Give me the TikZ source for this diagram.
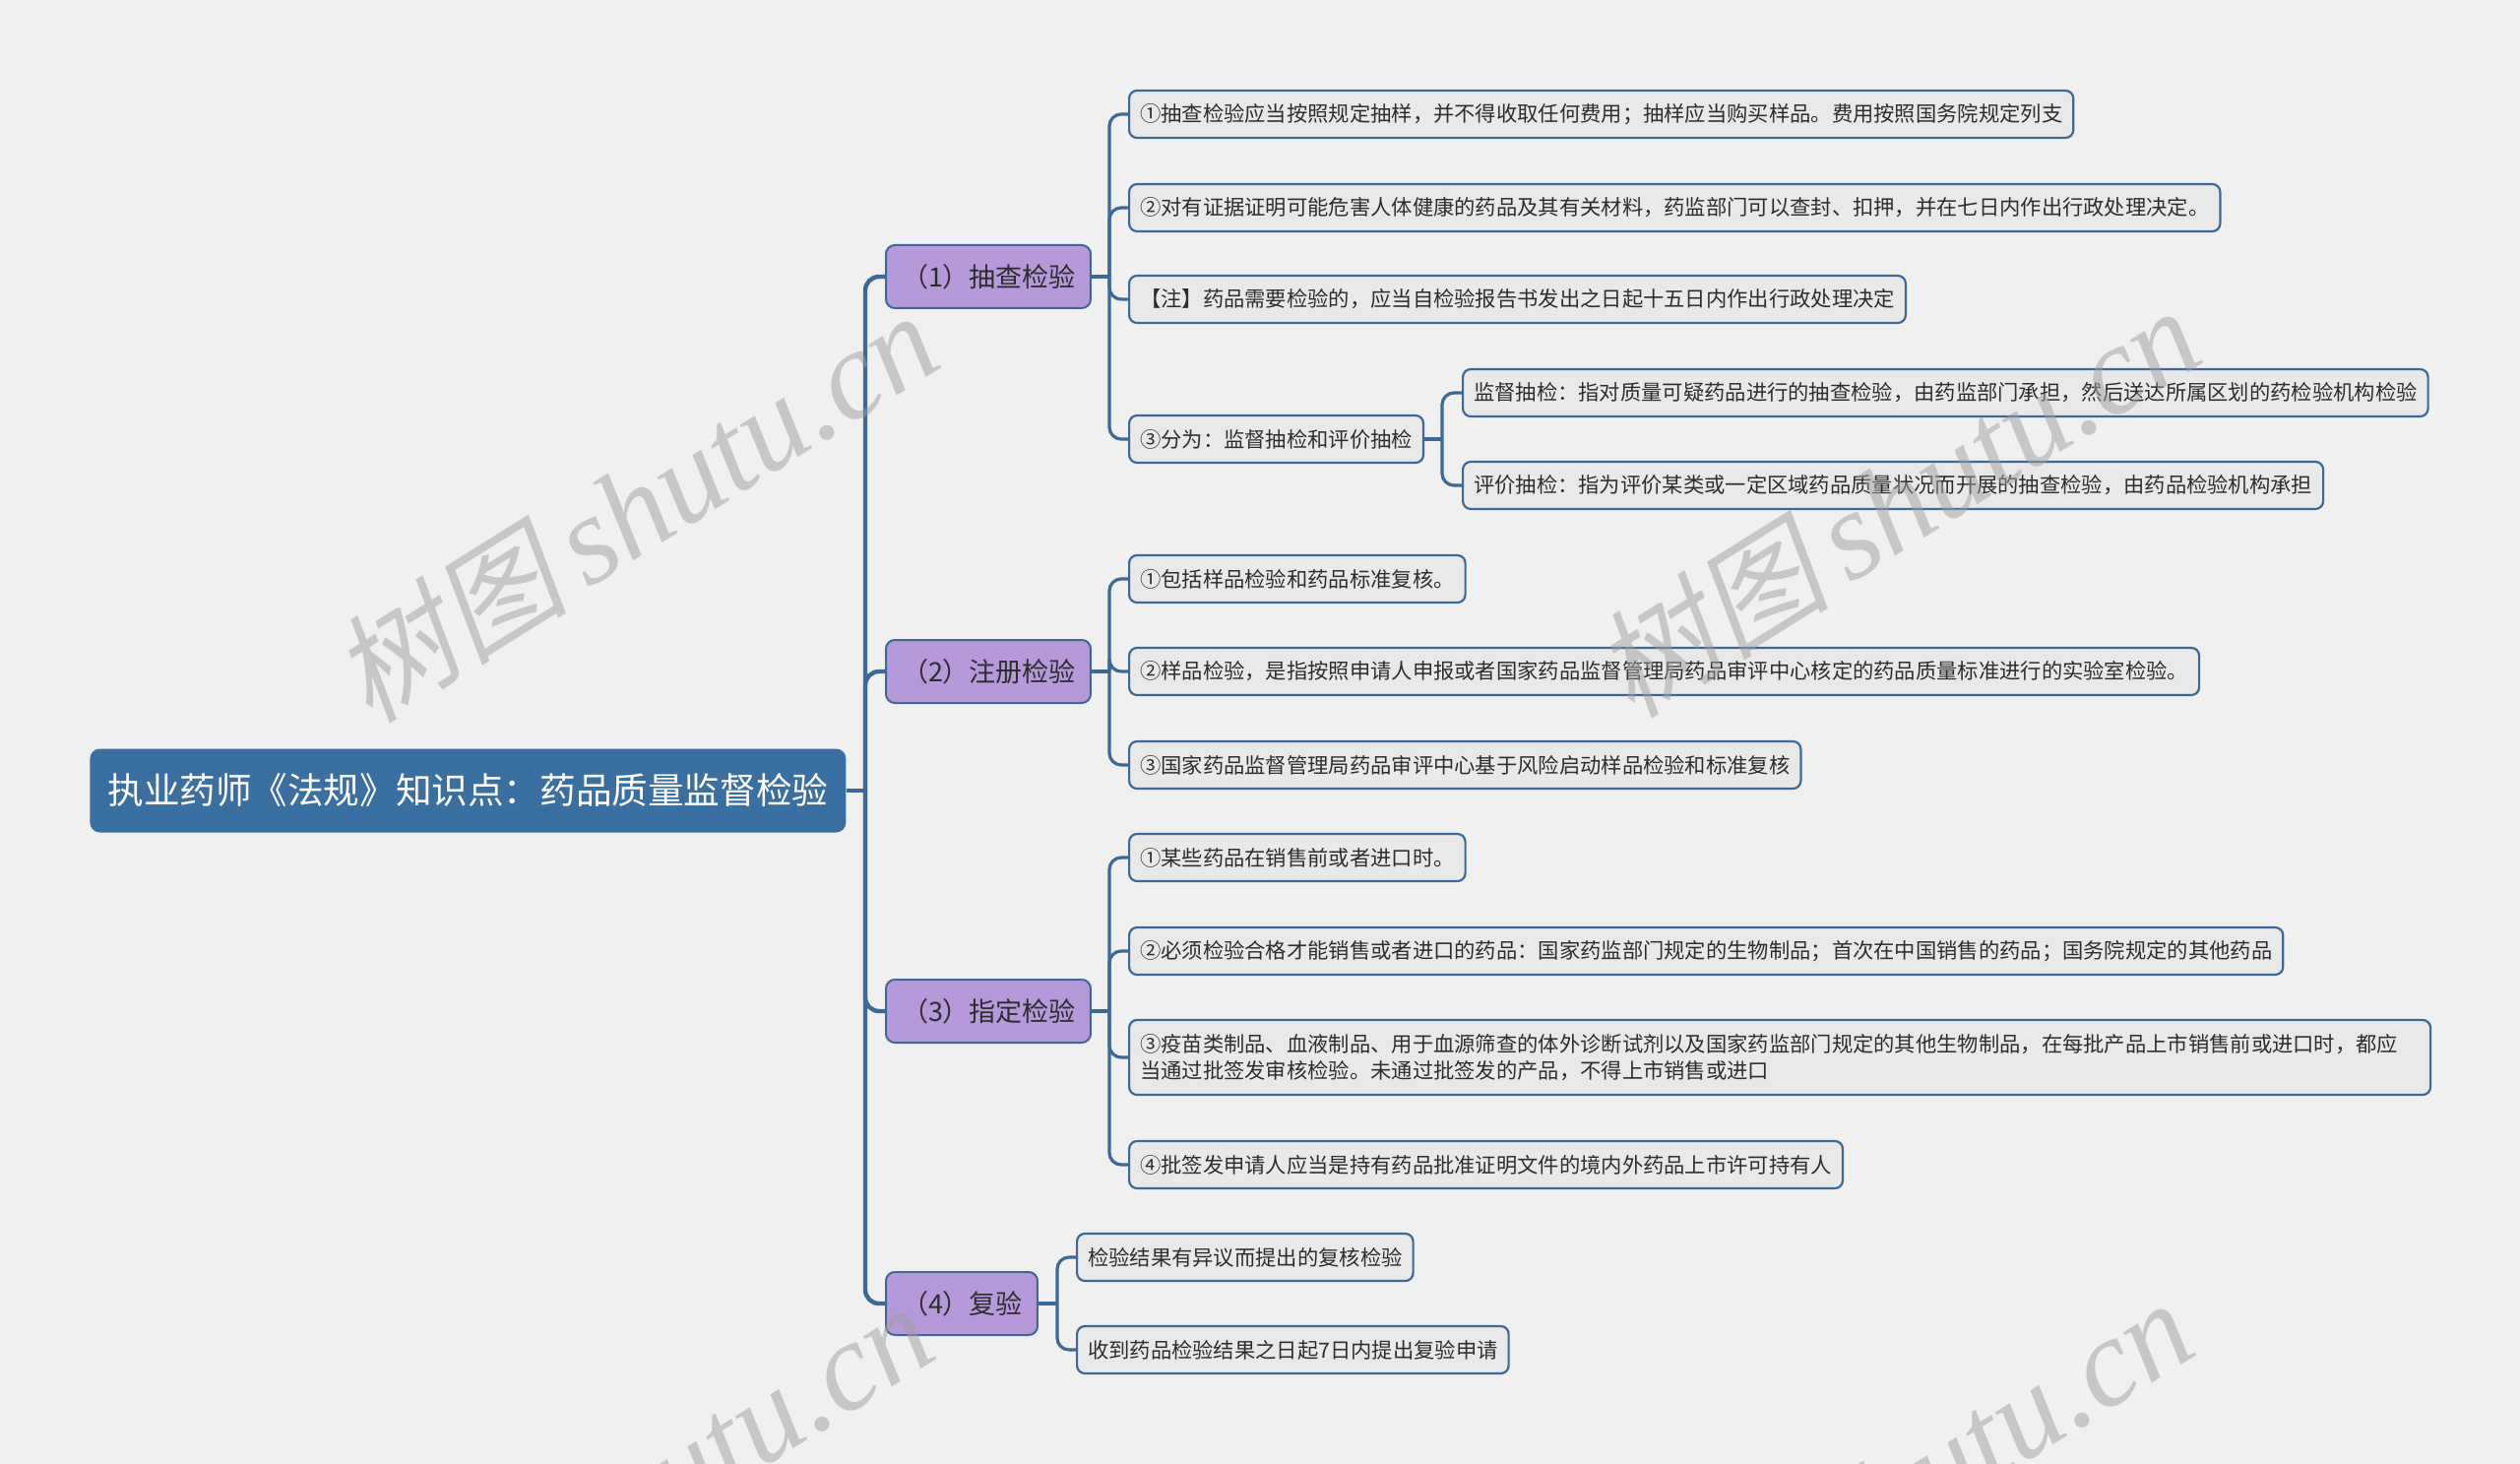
\documentclass[tikz,border=0pt]{standalone}
\usepackage{fontspec}
\setmainfont{Noto Sans CJK SC}
\newfontfamily\wmlatin{Liberation Serif}
\newfontfamily\wmcjk[FakeSlant=0.2]{Noto Sans CJK SC}
\definecolor{bgcol}{RGB}{240,240,240}
\definecolor{rootblue}{RGB}{58,112,161}
\definecolor{lineblue}{RGB}{60,105,150}
\definecolor{lpurple}{RGB}{182,153,217}
\definecolor{boxgray}{RGB}{233,233,233}
\definecolor{textdark}{RGB}{45,45,45}
\definecolor{wmgray}{RGB}{160,160,160}
\tikzset{
  rootbox/.style={fill=rootblue, rounded corners=5pt, text=white,
    font=\fontsize{18.3pt}{22pt}\selectfont, inner xsep=9pt, inner ysep=0pt,
    minimum height=42.5pt, anchor=west},
  lvlone/.style={fill=lpurple, draw=lineblue, line width=1pt, rounded corners=4.5pt,
    text=textdark, font=\fontsize{13.5pt}{16pt}\selectfont, inner xsep=0pt,
    inner ysep=0pt, minimum height=32pt, anchor=west},
  lvltwo/.style={fill=boxgray, draw=lineblue, line width=1.1pt, rounded corners=4pt,
    text=textdark, font=\fontsize{10.65pt}{13.9pt}\selectfont, inner xsep=5.5pt,
    inner ysep=2pt, minimum height=24pt, anchor=west},
  trunkline/.style={draw=lineblue, line width=2.2pt, rounded corners=7pt},
  conn/.style={draw=lineblue, line width=1.6pt, rounded corners=6pt},
  wmark/.style={text=wmgray, opacity=0.5, rotate=32, inner sep=0pt}
}
\newcommand{\lpad}[1]{\hspace*{8pt}#1\hspace*{7.5pt}}
\newcommand{\wmtext}{{\wmcjk\fontsize{60pt}{60pt}\selectfont 树图}\hspace{10pt}{\wmlatin\itshape\fontsize{64pt}{64pt}\selectfont shutu.cn}}
\begin{document}
\begin{tikzpicture}[x=0.5pt,y=-0.5pt]
\useasboundingbox (0,0) rectangle (2560,1487);
\fill[bgcol] (0,0) rectangle (2560,1487);

% root
\node[rootbox] (root) at (91,803) {执业药师《法规》知识点：药品质量监督检验};

% level 1
\node[lvlone] (n1) at (899,281) {\lpad{（1）抽查检验}};
\node[lvlone] (n2) at (899,682) {\lpad{（2）注册检验}};
\node[lvlone] (n3) at (899,1027) {\lpad{（3）指定检验}};
\node[lvlone] (n4) at (899,1324) {\lpad{（4）复验}};

% level 2 : group 1
\node[lvltwo] (a1) at (1146,116) {①抽查检验应当按照规定抽样，并不得收取任何费用；抽样应当购买样品。费用按照国务院规定列支};
\node[lvltwo] (a2) at (1146,211) {②对有证据证明可能危害人体健康的药品及其有关材料，药监部门可以查封、扣押，并在七日内作出行政处理决定。};
\node[lvltwo] (a3) at (1146,304) {【注】药品需要检验的，应当自检验报告书发出之日起十五日内作出行政处理决定};
\node[lvltwo] (a4) at (1146,446) {③分为：监督抽检和评价抽检};
\node[lvltwo] (s1) at (1485,399) {监督抽检：指对质量可疑药品进行的抽查检验，由药监部门承担，然后送达所属区划的药检验机构检验};
\node[lvltwo] (s2) at (1485,493) {评价抽检：指为评价某类或一定区域药品质量状况而开展的抽查检验，由药品检验机构承担};

% group 2
\node[lvltwo] (b1) at (1146,588) {①包括样品检验和药品标准复核。};
\node[lvltwo] (b2) at (1146,682) {②样品检验，是指按照申请人申报或者国家药品监督管理局药品审评中心核定的药品质量标准进行的实验室检验。};
\node[lvltwo] (b3) at (1146,777) {③国家药品监督管理局药品审评中心基于风险启动样品检验和标准复核};

% group 3
\node[lvltwo] (c1) at (1146,871) {①某些药品在销售前或者进口时。};
\node[lvltwo] (c2) at (1146,966) {②必须检验合格才能销售或者进口的药品：国家药监部门规定的生物制品；首次在中国销售的药品；国务院规定的其他药品};
\node[lvltwo, text width=650pt, align=left, minimum height=38pt] (c3) at (1146,1074) {③疫苗类制品、血液制品、用于血源筛查的体外诊断试剂以及国家药监部门规定的其他生物制品，在每批产品上市销售前或进口时，都应\\当通过批签发审核检验。未通过批签发的产品，不得上市销售或进口};
\node[lvltwo] (c4) at (1146,1183) {④批签发申请人应当是持有药品批准证明文件的境内外药品上市许可持有人};

% group 4
\node[lvltwo] (d1) at (1093,1277) {检验结果有异议而提出的复核检验};
\node[lvltwo] (d2) at (1093,1371) {收到药品检验结果之日起7日内提出复验申请};

% junction coordinates
\coordinate (tj) at (879,803);
\coordinate (j1) at (1127,281);
\coordinate (j2) at (1127,682);
\coordinate (j3) at (1127,1027);
\coordinate (j4) at (1074,1324);
\coordinate (js) at (1465,446);

% trunk
\draw[trunkline] (root.east) -- (tj);
\foreach \n in {n1,n2,n3,n4} { \draw[trunkline] (tj) |- (\n.west); }

% branches
\draw[conn] (n1.east) -- (j1);
\foreach \c in {a1,a2,a3,a4} { \draw[conn] (j1) |- (\c.west); }
\draw[conn] (a4.east) -- (js);
\foreach \c in {s1,s2} { \draw[conn] (js) |- (\c.west); }
\draw[conn] (n2.east) -- (j2);
\foreach \c in {b1,b2,b3} { \draw[conn] (j2) |- (\c.west); }
\draw[conn] (n3.east) -- (j3);
\foreach \c in {c1,c2,c3,c4} { \draw[conn] (j3) |- (\c.west); }
\draw[conn] (n4.east) -- (j4);
\foreach \c in {d1,d2} { \draw[conn] (j4) |- (\c.west); }

% watermarks
\begin{scope}
\clip (0,0) rectangle (2560,1487);
\node[wmark] (w1) at (645,515) {\wmtext};
\node[wmark] (w2) at (1927,510) {\wmtext};
\node[wmark] (w3) at (640,1522) {\wmtext};
\node[wmark] (w4) at (1920,1518) {\wmtext};
\end{scope}
\end{tikzpicture}
\end{document}
